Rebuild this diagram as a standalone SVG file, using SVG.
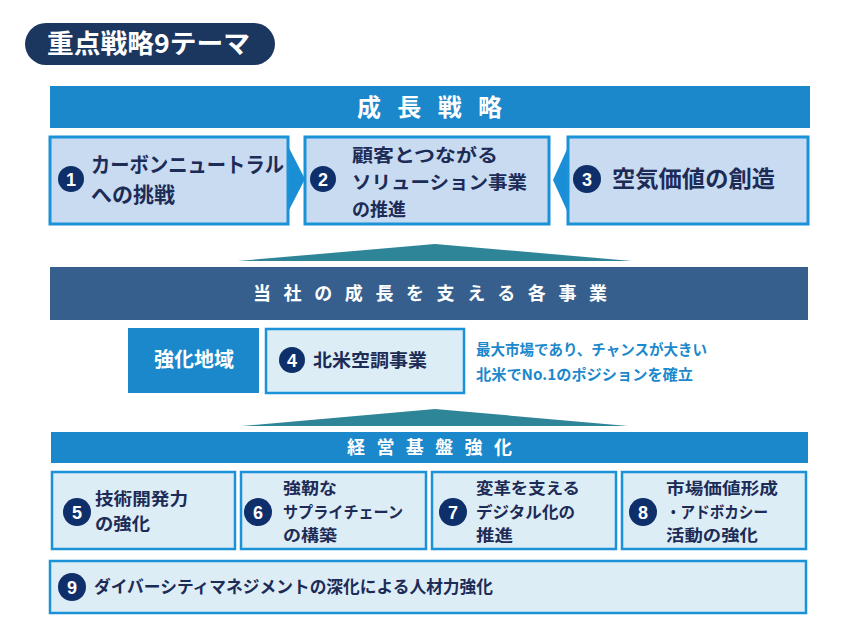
<svg xmlns="http://www.w3.org/2000/svg" width="865" height="630" viewBox="0 0 865 630">
<style>
text{font-family:"Noto Sans CJK JP","Noto Sans",sans-serif;font-weight:bold}
.w{fill:#ffffff}
.n{fill:#1d2b57}
.band{fill:#1b88cc}
.top{fill:#c9dbf0;stroke:#1b91d8;stroke-width:3}
.low{fill:#dcedf6;stroke:#1b91d8;stroke-width:2.5}
.num{fill:#0f2f6b}
.nt{fill:#ffffff;font-family:"Liberation Sans",sans-serif;font-size:18px;text-anchor:middle}
.mtn{fill:#2f8598}
</style>
<rect width="865" height="630" fill="#ffffff"/>

<g id="title">
<rect x="25" y="23" width="250" height="42" rx="21" fill="#1b365f"/>
<text x="47" y="53" class="w" font-size="26" textLength="203" lengthAdjust="spacingAndGlyphs">重点戦略9テーマ</text>
</g>

<g id="growth-band">
<rect x="50" y="86" width="760" height="42" class="band"/>
<text x="357" y="116" class="w" font-size="24" textLength="145" lengthAdjust="spacing">成長戦略</text>
</g>

<g id="connectors">
<polygon points="288,146 305,179 288,212" fill="#1b8fd6"/>
<polygon points="568,147 553,180 568,213" fill="#1b8fd6"/>
<polygon points="238,261 435,244 632,261" class="mtn"/>
<polygon points="242,426 435,409 628,426" class="mtn"/>
</g>

<g id="node1">
<rect x="50" y="137" width="238" height="87" class="top"/>
<circle cx="71" cy="179" r="13" class="num"/>
<text x="71" y="185.5" class="nt">1</text>
<text class="n" font-size="21"><tspan x="91" y="172" textLength="193" lengthAdjust="spacingAndGlyphs">カーボンニュートラル</tspan><tspan x="91" y="202">への挑戦</tspan></text>
</g>

<g id="node2">
<rect x="305" y="137" width="244" height="87" class="top"/>
<circle cx="323" cy="179" r="13" class="num"/>
<text x="323" y="185.5" class="nt">2</text>
<text class="n" font-size="18.5"><tspan x="352" y="162" textLength="146" lengthAdjust="spacingAndGlyphs">顧客とつながる</tspan><tspan x="352" y="189" textLength="175" lengthAdjust="spacingAndGlyphs">ソリューション事業</tspan><tspan x="352" y="216" textLength="54" lengthAdjust="spacingAndGlyphs">の推進</tspan></text>
</g>

<g id="node3">
<rect x="568" y="137" width="240" height="87" class="top"/>
<circle cx="587" cy="179" r="14" class="num"/>
<text x="587" y="185.5" class="nt">3</text>
<text x="612" y="187" class="n" font-size="23" textLength="163" lengthAdjust="spacingAndGlyphs">空気価値の創造</text>
</g>

<g id="business-band">
<rect x="50" y="267" width="758" height="53" fill="#365f8e"/>
<text x="253" y="300" class="w" font-size="18" textLength="354" lengthAdjust="spacing">当社の成長を支える各事業</text>
</g>

<g id="region">
<rect x="128" y="328" width="131" height="65" class="band"/>
<text x="194" y="367" class="w" font-size="20" text-anchor="middle">強化地域</text>
</g>

<g id="node4">
<rect x="266" y="329" width="198" height="64" class="low"/>
<circle cx="292" cy="360" r="13" class="num"/>
<text x="292" y="366.5" class="nt">4</text>
<text x="313" y="367" class="n" font-size="18" textLength="114" lengthAdjust="spacingAndGlyphs">北米空調事業</text>
</g>

<g id="note4">
<text fill="#1b88cc" font-size="15"><tspan x="476" y="355" textLength="231" lengthAdjust="spacingAndGlyphs">最大市場であり、チャンスが大きい</tspan><tspan x="476" y="380" textLength="217" lengthAdjust="spacingAndGlyphs">北米でNo.1のポジションを確立</tspan></text>
</g>

<g id="base-band">
<rect x="51" y="432" width="757" height="31" class="band"/>
<text x="347" y="454" class="w" font-size="18" textLength="165" lengthAdjust="spacing">経営基盤強化</text>
</g>

<g id="node5">
<rect x="52" y="472" width="183" height="77" class="low"/>
<circle cx="77" cy="512" r="14" class="num"/>
<text x="77" y="518.5" class="nt">5</text>
<text class="n" font-size="17"><tspan x="95" y="505" textLength="93" lengthAdjust="spacingAndGlyphs">技術開発力</tspan><tspan x="95" y="530" textLength="55" lengthAdjust="spacingAndGlyphs">の強化</tspan></text>
</g>

<g id="node6">
<rect x="241" y="472" width="185" height="77" class="low"/>
<circle cx="258" cy="512" r="14" class="num"/>
<text x="258" y="518.5" class="nt">6</text>
<text class="n" font-size="16"><tspan x="283" y="494" textLength="54" lengthAdjust="spacingAndGlyphs">強靭な</tspan><tspan x="283" y="517.5" textLength="120" lengthAdjust="spacingAndGlyphs">サプライチェーン</tspan><tspan x="283" y="541" textLength="54" lengthAdjust="spacingAndGlyphs">の構築</tspan></text>
</g>

<g id="node7">
<rect x="432" y="472" width="184" height="77" class="low"/>
<circle cx="453" cy="512" r="14" class="num"/>
<text x="453" y="518.5" class="nt">7</text>
<text class="n" font-size="16"><tspan x="476" y="494" textLength="104" lengthAdjust="spacingAndGlyphs">変革を支える</tspan><tspan x="476" y="517.5" textLength="99" lengthAdjust="spacingAndGlyphs">デジタル化の</tspan><tspan x="476" y="541" textLength="37" lengthAdjust="spacingAndGlyphs">推進</tspan></text>
</g>

<g id="node8">
<rect x="622" y="472" width="184" height="77" class="low"/>
<circle cx="643" cy="512" r="14" class="num"/>
<text x="643" y="518.5" class="nt">8</text>
<text class="n" font-size="16"><tspan x="666" y="494" textLength="112" lengthAdjust="spacingAndGlyphs">市場価値形成</tspan><tspan x="666" y="517.5" textLength="102" lengthAdjust="spacingAndGlyphs">・アドボカシー</tspan><tspan x="666" y="541" textLength="92" lengthAdjust="spacingAndGlyphs">活動の強化</tspan></text>
</g>

<g id="node9">
<rect x="50" y="561" width="756" height="52" class="low"/>
<circle cx="72" cy="587" r="14" class="num"/>
<text x="72" y="593.5" class="nt">9</text>
<text x="94" y="593" class="n" font-size="17" textLength="399" lengthAdjust="spacingAndGlyphs">ダイバーシティマネジメントの深化による人材力強化</text>
</g>
</svg>
